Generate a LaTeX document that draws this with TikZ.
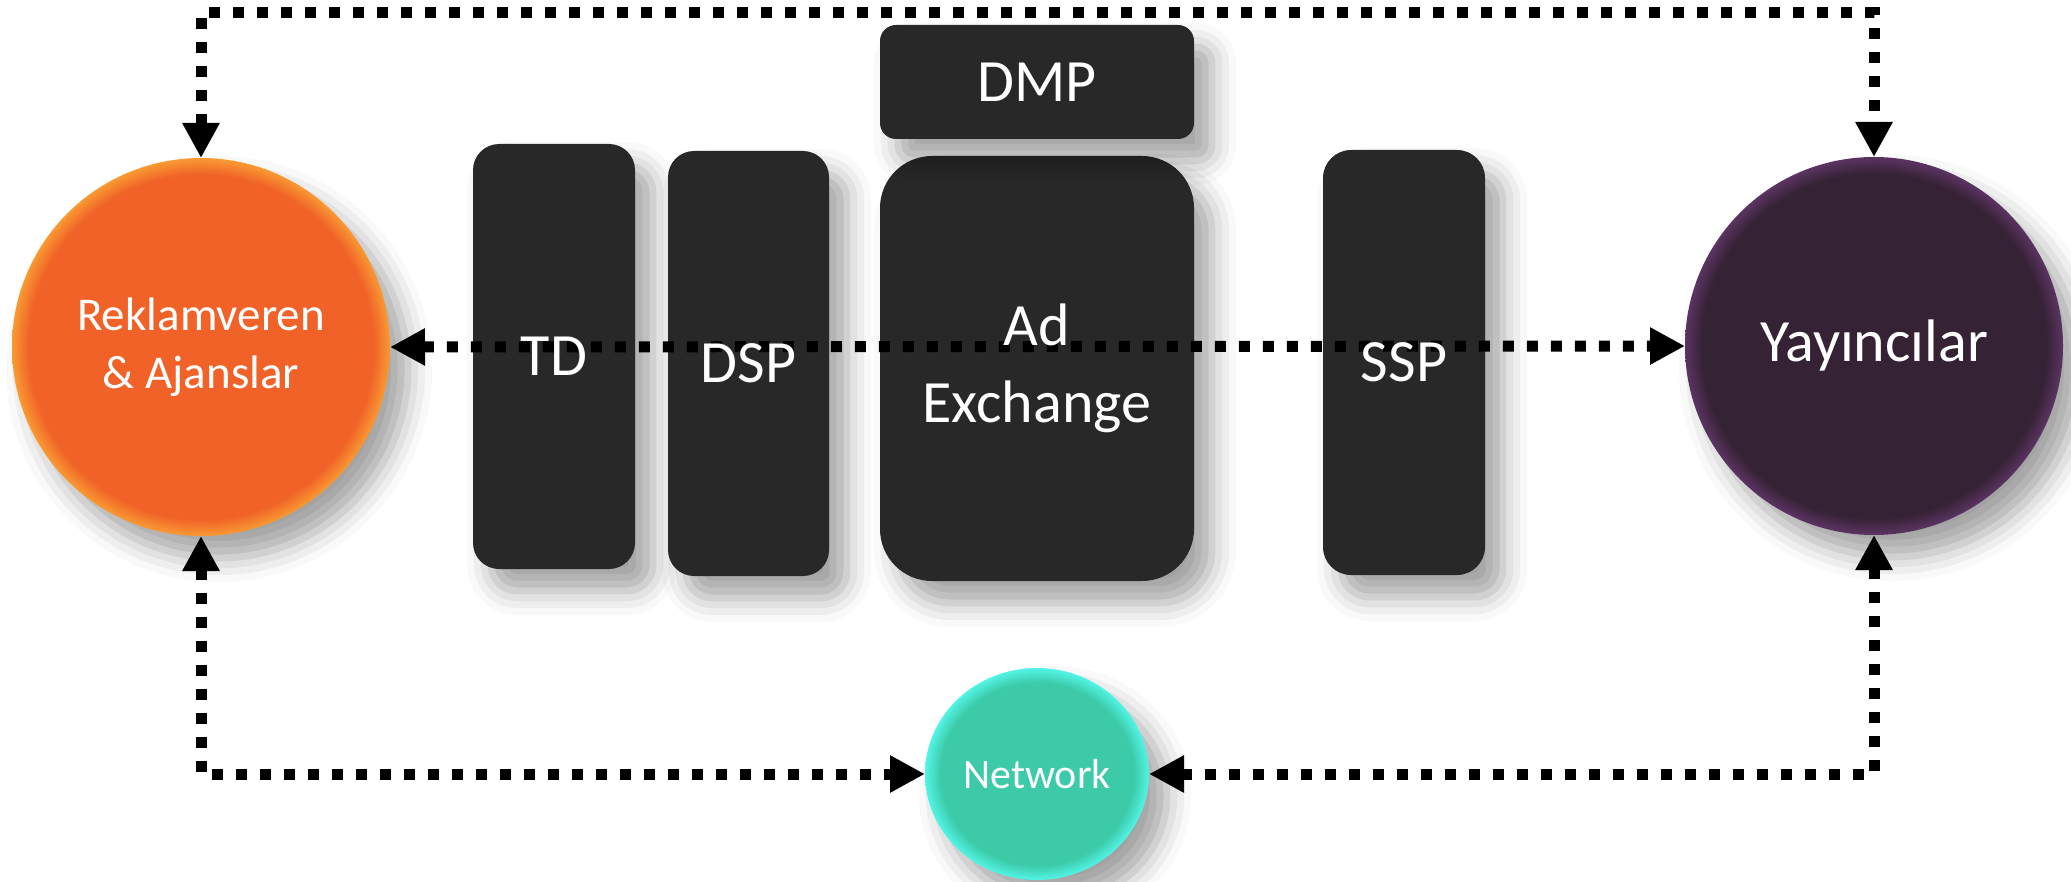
\documentclass[tikz,border=0pt]{standalone}
\usepackage{fontspec}
\setmainfont{Carlito}
\usetikzlibrary{arrows.meta,shapes.geometric,shadows.blur}

\definecolor{orC}{HTML}{F06228}
\definecolor{orE}{HTML}{F99A32}
\definecolor{puC}{HTML}{362235}
\definecolor{puE}{HTML}{5B3462}
\definecolor{teC}{HTML}{3CCAA8}
\definecolor{teE}{HTML}{52F4E6}
\definecolor{boxC}{HTML}{282828}

\pgfdeclareradialshading{orball}{\pgfpoint{0bp}{0bp}}{color(0bp)=(orC); color(22.8bp)=(orC); color(25bp)=(orE); color(50bp)=(orE)}
\pgfdeclareradialshading{puball}{\pgfpoint{0bp}{0bp}}{color(0bp)=(puC); color(22.8bp)=(puC); color(25bp)=(puE); color(50bp)=(puE)}
\pgfdeclareradialshading{teball}{\pgfpoint{0bp}{0bp}}{color(0bp)=(teC); color(21.5bp)=(teC); color(25bp)=(teE); color(50bp)=(teE)}

\tikzset{
  softshadow/.style={blur shadow={shadow xshift=9pt, shadow yshift=-11pt, shadow blur radius=12pt, shadow opacity=36}},
  ball/.style={circle, minimum size=189pt, inner sep=0pt, outer sep=0pt, softshadow},
  blk/.style={rectangle, fill=boxC, inner sep=0pt, outer sep=0pt, softshadow},
  biglbl/.style={text=white, font=\fontsize{30}{38.5}\selectfont, align=center},
  conn/.style={line width=5.5pt, dash pattern=on 5.5pt off 6.5pt, line join=miter,
    {Triangle[length=17.5pt,width=17.5pt]}-{Triangle[length=17.5pt,width=17.5pt]}}
}

\begin{document}
\begin{tikzpicture}[x=0.5pt,y=-0.5pt]
\useasboundingbox (0,0) rectangle (2071,882);

% circles
\node[ball, shading=orball, text=white, align=center, font=\fontsize{23.5}{29}\selectfont] (rek) at (201,347) {Reklamveren\\\& Ajanslar};
\node[ball, shading=puball, text=white, font=\fontsize{30}{36}\selectfont] (yay) at (1874,346) {Yayıncılar};
\node[ellipse, minimum width=112pt, minimum height=106pt, inner sep=0pt, outer sep=0pt, softshadow, shading=teball, text=white, font=\fontsize{21}{25}\selectfont] (net) at (1037,774) {Network};

% boxes
\node[blk, minimum width=81pt, minimum height=212.5pt, rounded corners=13pt] (td) at (554,356.5) {};
\node[blk, minimum width=80.5pt, minimum height=212.5pt, rounded corners=13pt] (dsp) at (748.5,363.5) {};
\node[blk, minimum width=157pt, minimum height=212.5pt, rounded corners=26pt] (adx) at (1037,368.5) {};
\node[blk, minimum width=157pt, minimum height=57pt, rounded corners=8pt] (dmp) at (1037,82) {};
\node[blk, minimum width=81pt, minimum height=212.5pt, rounded corners=14pt] (ssp) at (1404,362.5) {};

% connectors
\coordinate (topy) at (0,13);
\draw[conn] (rek.north) |- (yay.north |- topy) -- (yay.north);
\draw[conn] (rek.east) -- (yay.west);
\draw[conn] (rek.south) |- (net.west);
\draw[conn] (yay.south) |- (net.east);

% box labels
\node[biglbl] (tdl) at (td) {TD};
\node[biglbl] (dspl) at (dsp) {DSP};
\node[biglbl] (adxl) at (adx) {Ad\\Exchange};
\node[biglbl] (dmpl) at (dmp) {DMP};
\node[biglbl] (sspl) at (ssp) {SSP};
\end{tikzpicture}
\end{document}
